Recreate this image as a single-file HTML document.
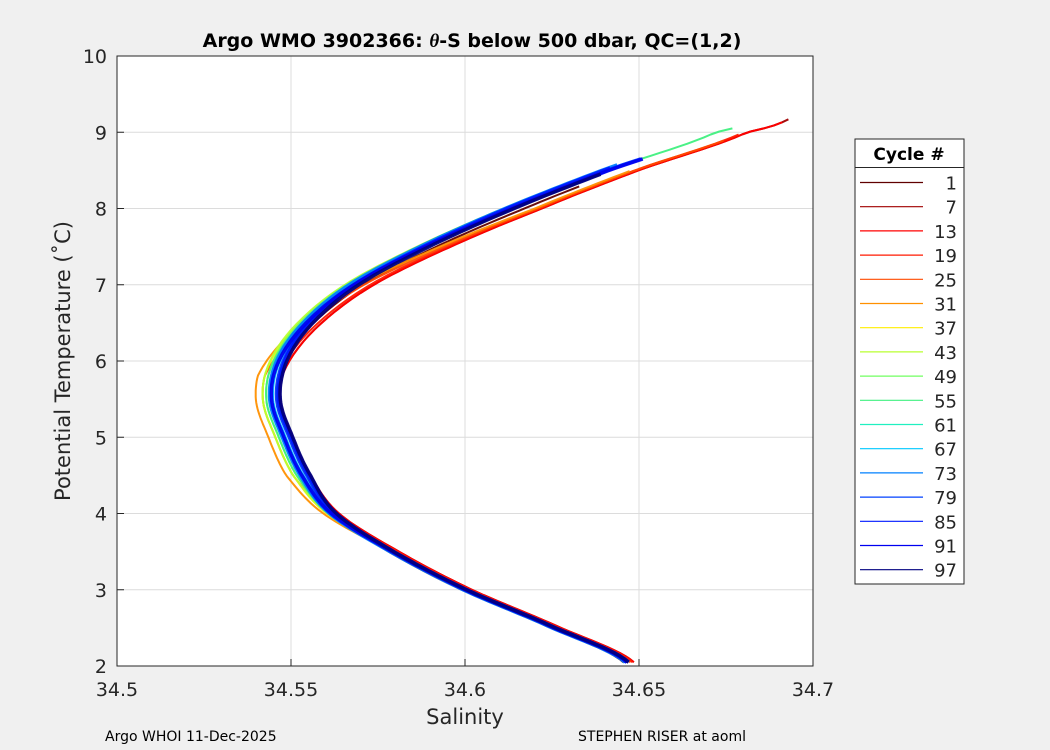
<!DOCTYPE html>
<html><head><meta charset="utf-8"><style>
body{margin:0;background:#f0f0f0;}
svg{display:block;font-family:"DejaVu Sans","Liberation Sans",sans-serif;}
</style></head><body>
<svg id="chart" width="1050" height="750" xmlns="http://www.w3.org/2000/svg">
<rect x="0" y="0" width="1050" height="750" fill="#f0f0f0"/>
<rect x="117" y="56" width="696" height="610" fill="#fff" stroke="#262626" stroke-width="1"/>
<g id="grid"></g>
<g id="series"></g>
<rect x="117" y="56" width="696" height="610" fill="none" stroke="#262626" stroke-width="1"/>
<g id="ticks"></g>
<text x="472" y="47" text-anchor="middle" font-size="19" font-weight="bold" fill="#000">Argo WMO 3902366: <tspan font-style="italic" font-family="Liberation Serif,serif">θ</tspan>-S below 500 dbar,  QC=(1,2)</text>
<text x="465" y="724" text-anchor="middle" font-size="21" fill="#262626">Salinity</text>
<text transform="translate(70,361) rotate(-90)" text-anchor="middle" font-size="21" fill="#262626">Potential Temperature (˚C)</text>
<text x="105" y="741" font-size="14" fill="#000">Argo WHOI 11-Dec-2025</text>
<text x="578" y="741" font-size="14" fill="#000">STEPHEN RISER at aoml</text>
<g id="legend"></g>
</svg>
<script>
const xTicks=[34.5,34.55,34.6,34.65,34.7];
const xTickLabels=["34.5","34.55","34.6","34.65","34.7"];
const yTicks=[2,3,4,5,6,7,8,9,10];
const baseTemp=[2.05,2.5,3.0,3.5,4.0,4.5,5.0,5.5,6.0,6.5,7.0,7.5,8.0,8.5,9.0,9.2];
const baseSal=[34.6465,34.6255,34.600,34.579,34.5618,34.5536,34.5485,34.5449,34.5469,34.5546,34.568,34.5885,34.6131,34.6409,34.672,34.685];
const cycles=[1,7,13,19,25,31,37,43,49,55,61,67,73,79,85,91,97];
const cycleColors=["#600000","#a00000","#ff0000","#ff1a00","#ff4a00","#ff9000","#ffee00","#b8ff30","#70ff60","#40f080","#20f0c0","#00c8ff","#0080ff","#0040ff","#0018ff","#0000f0","#000080"];
const lowerOffsets=[-0.001,0.002,0.002,0.0015,0.001,0.0,0.0,0.0005,0.0,0.0005,0.0,0.0,-0.0005,0.0,0.0005,0.0,0.0005];
const noseOffsets=[0.001,0.002,0.002,0.001,-0.003,-0.005,-0.003,-0.003,-0.002,-0.002,-0.001,0.0,-0.001,0.001,0.0015,-0.0005,0.002];
const upperOffsets=[0.004,0.009,0.009,0.008,0.008,0.007,0.0,-0.002,-0.002,0.0,-0.001,0.0,-0.0015,0.0,-0.001,0.0005,0.001];
const topTemp=[8.3,9.2,9.15,9.0,8.9,8.5,7.8,8.0,8.3,9.07,8.4,8.5,8.6,8.65,8.55,8.68,8.45];
const X0=117,X1=813,Y0=666,Y1=56;
function xs(v){return X0+(v-34.5)/0.2*(X1-X0);}
function ys(v){return Y0-(v-2)/8*(Y0-Y1);}
const NS="http://www.w3.org/2000/svg";
function mk(tag,attrs,parent,text){const e=document.createElementNS(NS,tag);for(const k in attrs)e.setAttribute(k,attrs[k]);if(text!==undefined)e.textContent=text;parent.appendChild(e);return e;}
const grid=document.getElementById('grid'),ticks=document.getElementById('ticks');
xTicks.forEach((t,i)=>{const x=xs(t);
 const g=mk('line',{x1:x,x2:x,y1:Y1,y2:Y0,stroke:'#dcdcdc','stroke-width':1},grid);
 
 const tk=mk('line',{x1:x,x2:x,y1:Y0,y2:Y0-7,stroke:'#262626'},ticks);
 
 const l=mk('text',{x:x,y:Y0+30,'text-anchor':'middle','font-size':19,fill:'#262626'},ticks,xTickLabels[i]);
 });
yTicks.forEach(t=>{const y=ys(t);
 const g=mk('line',{x1:X0,x2:X1,y1:y,y2:y,stroke:'#dcdcdc','stroke-width':1},grid);
 
 const tk=mk('line',{x1:X0,x2:X0+7,y1:y,y2:y,stroke:'#262626'},ticks);
 
 const l=mk('text',{x:X0-10,y:y+7,'text-anchor':'end','font-size':19,fill:'#262626'},ticks,String(t));
 });
const series=document.getElementById('series');
function salAt(T){const n=baseTemp.length;
 for(let i=0;i<n-1;i++){if(T>=baseTemp[i]&&T<=baseTemp[i+1]){
  const t=(T-baseTemp[i])/(baseTemp[i+1]-baseTemp[i]);
  const p0=baseSal[Math.max(i-1,0)],p1=baseSal[i],p2=baseSal[i+1],p3=baseSal[Math.min(i+2,n-1)];
  return 0.5*((2*p1)+(-p0+p2)*t+(2*p0-5*p1+4*p2-p3)*t*t+(-p0+3*p1-3*p2+p3)*t*t*t);}}
 return baseSal[n-1];}
function offAt(i,T){
 if(T<3.5) return lowerOffsets[i];
 if(T<4.5) return lowerOffsets[i]+(noseOffsets[i]-lowerOffsets[i])*(T-3.5);
 if(T<5.8) return noseOffsets[i];
 if(T<8.0) return noseOffsets[i]+(upperOffsets[i]-noseOffsets[i])*(T-5.8)/2.2;
 return upperOffsets[i];}
cycles.forEach((c,i)=>{const pts=[];
 for(let T=baseTemp[0];T<=topTemp[i]+1e-9;T+=0.04){const s=salAt(T)+offAt(i,T);pts.push(xs(s).toFixed(1)+','+ys(T).toFixed(1));}
 const p=mk('polyline',{points:pts.join(' '),fill:'none',stroke:cycleColors[i],'stroke-width':i>=12?3.6:2,'stroke-opacity':0.95,'stroke-linejoin':'round'},series);
 });
const lg=document.getElementById('legend');
const lb=mk('rect',{x:855,y:139,width:109,height:445,fill:'#fff',stroke:'#262626'},lg);

const lt=mk('text',{x:909,y:160,'text-anchor':'middle','font-size':17,'font-weight':'bold'},lg,'Cycle #');

const ls=mk('line',{x1:855,x2:964,y1:167.5,y2:167.5,stroke:'#262626'},lg);

cycles.forEach((c,i)=>{const y=182.5+i*24.2;
 const l=mk('line',{x1:860,x2:923,y1:y,y2:y,stroke:cycleColors[i],'stroke-width':1.2},lg);
 
 const t=mk('text',{x:957,y:y+7,'text-anchor':'end','font-size':18,fill:'#262626'},lg,String(c));
 });
</script>
</body></html>
